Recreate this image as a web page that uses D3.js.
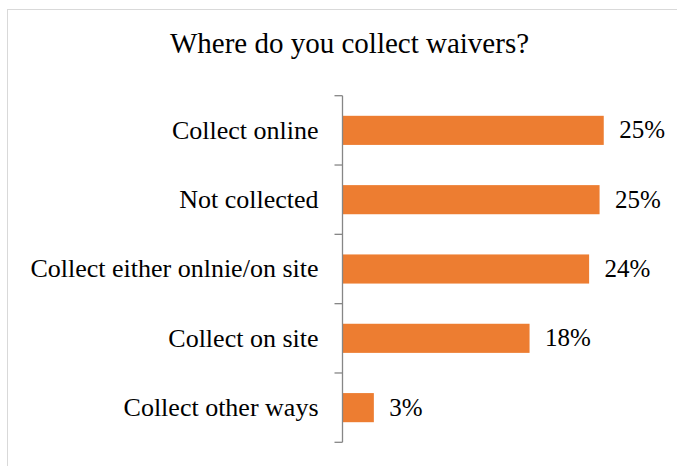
<!DOCTYPE html>
<html>
<head>
<meta charset="utf-8">
<script src="https://cdn.jsdelivr.net/npm/d3@7"></script>
<style>
  html, body { margin: 0; padding: 0; background: #fff; }
  svg { display: block; }
</style>
</head>
<body>
<svg id="chart" width="677" height="466"></svg>
<script>
// Survey answers, top to bottom
const categories = [
  "Collect online",
  "Not collected",
  "Collect either onlnie/on site",
  "Collect on site",
  "Collect other ways"
];
const shares = [0.25, 0.246, 0.236, 0.179, 0.030];
const title = "Where do you collect waivers?";

const FONT = '"Liberation Serif"';
const svg = d3.select("#chart");

// chart frame (extends past the visible area on the right and bottom)
svg.append("rect")
  .attr("x", 7.5).attr("y", 9.5)
  .attr("width", 700).attr("height", 500)
  .attr("fill", "#fff")
  .attr("stroke", "#d9d9d9")
  .attr("stroke-width", 1);

svg.append("text")
  .attr("x", 349.5).attr("y", 53)
  .attr("text-anchor", "middle")
  .style("font-family", FONT)
  .style("font-size", "29px")
  .attr("fill", "#000")
  .text(title);

const plot = { left: 342.5, right: 656, top: 95.7, bottom: 442.3 };

const x = d3.scaleLinear().domain([0, 0.30]).range([plot.left, plot.right]);
const y = d3.scaleBand().domain(categories).range([plot.top, plot.bottom]).padding(0);
const barH = y.bandwidth() * 0.42;
const fmt = d3.format(".0%");

// bars
svg.append("g").selectAll("rect")
  .data(categories)
  .join("rect")
  .attr("x", x(0))
  .attr("y", d => y(d) + y.bandwidth() / 2 - barH / 2)
  .attr("width", (d, i) => x(shares[i]) - x(0))
  .attr("height", barH)
  .attr("fill", "#ED7D31");

// category axis: labels at band centres, ticks at band boundaries
const axis = svg.append("g")
  .attr("transform", `translate(${plot.left},0)`)
  .call(d3.axisLeft(y).tickSize(0).tickPadding(24));
axis.attr("font-family", null).attr("font-size", null);
axis.select(".domain").remove();
axis.selectAll("text")
  .attr("dy", "0.32em")
  .style("font-family", FONT)
  .style("font-size", "26px")
  .attr("fill", "#000");

const boundaries = categories.map(c => y(c)).concat([y.range()[1]]);
const axisG = svg.append("g").attr("stroke", "#868686").attr("stroke-width", 1.3);
axisG.append("line")
  .attr("x1", plot.left).attr("x2", plot.left)
  .attr("y1", plot.top).attr("y2", plot.bottom);
axisG.selectAll("line.tick")
  .data(boundaries)
  .join("line")
  .attr("class", "tick")
  .attr("x1", plot.left - 8).attr("x2", plot.left)
  .attr("y1", d => d).attr("y2", d => d);

// value labels
svg.append("g").selectAll("text")
  .data(categories)
  .join("text")
  .attr("x", (d, i) => x(shares[i]) + 15.5)
  .attr("y", d => y(d) + y.bandwidth() / 2)
  .attr("dy", "0.32em")
  .style("font-family", FONT)
  .style("font-size", "25px")
  .attr("fill", "#000")
  .text((d, i) => fmt(shares[i]));
</script>
</body>
</html>
